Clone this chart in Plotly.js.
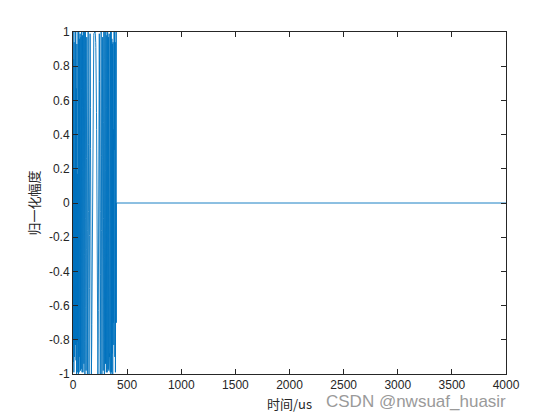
<!DOCTYPE html>
<html><head><meta charset="utf-8">
<script src="https://cdn.plot.ly/plotly-3.0.1.min.js"></script>
<style>html,body{margin:0;padding:0;background:#fff}#c{width:560px;height:420px}</style>
</head><body><div id="c"></div>
<script>
// pulse samples (every 1 us, starting at t = 0)
const sampleStep = 1;
const pulseValues = [
 0.17,1.00,0.19,-0.93,-0.55,0.71,0.84,-0.35,-0.99,-0.11,
 0.94,0.56,-0.66,-0.90,0.19,1.00,0.36,-0.79,-0.82,0.31,
 1.00,0.31,-0.80,-0.83,0.26,1.00,0.43,-0.70,-0.92,0.03,
 0.94,0.67,-0.43,-1.00,-0.36,0.71,0.93,0.07,-0.88,-0.81,
 0.17,0.96,0.68,-0.35,-0.99,-0.57,0.45,1.00,0.51,-0.50,
 -1.00,-0.50,0.49,1.00,0.55,-0.42,-0.99,-0.64,0.30,0.96,
 0.77,-0.10,-0.88,-0.90,-0.16,0.71,0.99,0.47,-0.43,-0.98,
 -0.77,0.03,0.80,0.97,0.43,-0.42,-0.97,-0.83,-0.12,0.67,
 1.00,0.67,-0.09,-0.79,-0.99,-0.57,0.19,0.83,0.98,0.56,
 -0.17,-0.81,-0.99,-0.64,0.05,0.71,1.00,0.79,0.19,-0.50,
 -0.94,-0.94,-0.51,0.14,0.73,1.00,0.84,0.34,-0.30,-0.81,
 -1.00,-0.81,-0.32,0.28,0.77,1.00,0.88,0.47,-0.09,-0.61,
 -0.94,-0.98,-0.73,-0.27,0.26,0.71,0.97,0.97,0.73,0.31,
 -0.17,-0.61,-0.91,-1.00,-0.88,-0.57,-0.16,0.28,0.66,0.91,
 1.00,0.91,0.68,0.34,-0.05,-0.42,-0.73,-0.93,-1.00,-0.94,
 -0.77,-0.50,-0.19,0.14,0.45,0.71,0.89,0.99,0.99,0.91,
 0.77,0.56,0.32,0.07,-0.19,-0.42,-0.63,-0.79,-0.91,-0.98,
 -1.00,-0.98,-0.92,-0.83,-0.71,-0.57,-0.43,-0.27,-0.12,0.03,
 0.17,0.31,0.43,0.53,0.63,0.71,0.77,0.83,0.88,0.91,
 0.94,0.96,0.98,0.99,0.99,1.00,1.00,1.00,1.00,1.00,
 1.00,
 1.00,1.00,1.00,1.00,1.00,0.99,0.99,0.98,0.96,0.94,
 0.91,0.88,0.83,0.77,0.71,0.63,0.53,0.43,0.31,0.17,
 0.03,-0.12,-0.27,-0.43,-0.57,-0.71,-0.83,-0.92,-0.98,-1.00,
 -0.98,-0.91,-0.79,-0.63,-0.42,-0.19,0.07,0.32,0.56,0.77,
 0.91,0.99,0.99,0.89,0.71,0.45,0.14,-0.19,-0.50,-0.77,
 -0.94,-1.00,-0.93,-0.73,-0.42,-0.05,0.34,0.68,0.91,1.00,
 0.91,0.66,0.28,-0.16,-0.57,-0.88,-1.00,-0.91,-0.61,-0.17,
 0.31,0.73,0.97,0.97,0.71,0.26,-0.27,-0.73,-0.98,-0.94,
 -0.61,-0.09,0.47,0.88,1.00,0.77,0.28,-0.32,-0.81,-1.00,
 -0.81,-0.30,0.34,0.84,1.00,0.73,0.14,-0.51,-0.94,-0.94,
 -0.50,0.19,0.79,1.00,0.71,0.05,-0.64,-0.99,-0.81,-0.17,
 0.56,0.98,0.83,0.19,-0.57,-0.99,-0.79,-0.09,0.67,1.00,
 0.67,-0.12,-0.83,-0.97,-0.42,0.43,0.97,0.80,0.03,-0.77,
 -0.98,-0.43,0.47,0.99,0.71,-0.16,-0.90,-0.88,-0.10,0.77,
 0.96,0.30,-0.64,-0.99,-0.42,0.55,1.00,0.49,-0.50,-1.00,
 -0.50,0.51,1.00,0.45,-0.57,-0.99,-0.35,0.68,0.96,0.17,
 -0.81,-0.88,0.07,0.93,0.71,-0.36,-1.00,-0.43,0.67,0.94,
 0.03,-0.92,-0.70,0.43,1.00,0.26,-0.83,-0.80,0.31,1.00,
 0.31,-0.82,-0.79,0.36,1.00,0.19,-0.90,-0.66,0.56,0.94,
 -0.11,-0.99,-0.35,0.84,0.71,-0.55,-0.93,0.19,1.00,-0.70
];
// zero padding after the pulse
const tailTimes = [401, 4000];
const tailValues = [0, 0];

const xTicks = [0,500,1000,1500,2000,2500,3000,3500,4000];
const yTicks = [-1,-0.8,-0.6,-0.4,-0.2,0,0.2,0.4,0.6,0.8,1];

const x = pulseValues.map((_, i) => i * sampleStep).concat(tailTimes);
const y = pulseValues.concat(tailValues);

const axCol = '#262626';
const tickFont = {family: 'Arial, "Liberation Sans", sans-serif', size: 12, color: axCol};

Plotly.newPlot('c', [{
  x: x, y: y, type: 'scatter', mode: 'lines',
  line: {color: '#0072BD', width: 0.9}, hoverinfo: 'skip'
}], {
  width: 560, height: 420,
  margin: {l: 73, r: 54, t: 32, b: 46},
  paper_bgcolor: '#fff', plot_bgcolor: '#fff',
  showlegend: false,
  xaxis: {
    range: [0, 4000], tickvals: xTicks, ticktext: xTicks.map(String),
    ticks: 'inside', ticklen: 5, tickcolor: axCol, tickwidth: 1,
    showline: true, linecolor: axCol, linewidth: 1, mirror: 'ticks',
    showgrid: false, zeroline: false, tickfont: tickFont,
    title: {text: '时间/us', font: {family: '"Noto Sans CJK SC", sans-serif', size: 13, color: axCol}, standoff: 8}
  },
  yaxis: {
    range: [-1, 1], tickvals: yTicks, ticktext: yTicks.map(v => String(v)),
    ticks: 'inside', ticklen: 5, tickcolor: axCol, tickwidth: 1,
    showline: true, linecolor: axCol, linewidth: 1, mirror: 'ticks',
    showgrid: false, zeroline: false, tickfont: tickFont,
    title: {text: '归一化幅度', font: {family: '"Noto Sans CJK SC", sans-serif', size: 13, color: axCol}, standoff: 6}
  },
  annotations: [{
    text: 'CSDN @nwsuaf_huasir', xref: 'paper', yref: 'paper',
    x: 1.005, y: -0.079, xanchor: 'right', yanchor: 'middle',
    showarrow: false, font: {family: 'Arial, "Liberation Sans", sans-serif', size: 17, color: '#9a9a9a'}
  }]
}, {staticPlot: true});
</script></body></html>
